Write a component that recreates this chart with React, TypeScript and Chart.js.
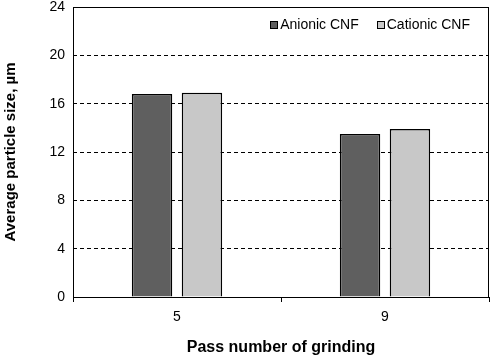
import React, { useEffect, useRef } from "react";
import { Chart, registerables } from "chart.js";

Chart.register(...registerables);

const categories = ["5", "9"];
const anionic = [16.8, 13.5];
const cationic = [16.9, 13.9];
const seriesNames = ["Anionic CNF", "Cationic CNF"];
const seriesColors = ["#5f5f5f", "#c8c8c8"];
const yTicks = [0, 4, 8, 12, 16, 20, 24];

const FONT = "Arial, 'Liberation Sans', sans-serif";

const boxPlugin = {
  id: "boxPlugin",
  afterDatasetsDraw(chart: any) {
    const { ctx, chartArea } = chart;
    ctx.save();
    ctx.strokeStyle = "#000";
    ctx.lineWidth = 1;
    ctx.setLineDash([]);
    ctx.strokeRect(
      Math.round(chartArea.left) + 0.5,
      Math.round(chartArea.top) + 0.5,
      Math.round(chartArea.right - chartArea.left) - 1,
      Math.round(chartArea.bottom - chartArea.top)
    );
    ctx.restore();
  },
};

const legendPlugin = {
  id: "customLegend",
  afterDraw(chart: any) {
    const { ctx, chartArea } = chart;
    ctx.save();
    ctx.font = "14px " + FONT;
    ctx.textBaseline = "middle";
    ctx.textAlign = "left";
    const y = chartArea.top + 18;
    const box = 8;
    const gapBoxText = 2;
    const itemGap = 18;
    const widths = seriesNames.map((n) => ctx.measureText(n).width);
    let total = 0;
    widths.forEach((w, i) => {
      total += box + gapBoxText + w;
      if (i < widths.length - 1) total += itemGap;
    });
    let x = chartArea.right - 19 - total;
    seriesNames.forEach((n, i) => {
      ctx.fillStyle = seriesColors[i];
      ctx.fillRect(Math.round(x), Math.round(y - box / 2), box, box);
      ctx.strokeStyle = "#000";
      ctx.lineWidth = 1;
      ctx.strokeRect(Math.round(x) + 0.5, Math.round(y - box / 2) + 0.5, box - 1, box - 1);
      ctx.fillStyle = "#000";
      ctx.fillText(n, x + box + gapBoxText, y);
      x += box + gapBoxText + widths[i] + itemGap;
    });
    ctx.restore();
  },
};

export default function App() {
  const ref = useRef<HTMLCanvasElement>(null);
  useEffect(() => {
    document.body.style.margin = "0";
    const canvas = ref.current!;
    const chart = new Chart(canvas, {
      type: "bar",
      data: {
        labels: categories,
        datasets: [
          {
            label: seriesNames[0],
            data: anionic,
            backgroundColor: seriesColors[0],
            borderColor: "#000",
            borderWidth: 1.5,
            categoryPercentage: 0.48,
            barPercentage: 0.81,
          },
          {
            label: seriesNames[1],
            data: cationic,
            backgroundColor: seriesColors[1],
            borderColor: "#000",
            borderWidth: 1.5,
            categoryPercentage: 0.48,
            barPercentage: 0.81,
          },
        ],
      },
      options: {
        responsive: false,
        animation: false,
        layout: { padding: { left: 0, right: 3, top: 7, bottom: 0 } },
        plugins: {
          legend: { display: false },
          tooltip: { enabled: false },
        },
        scales: {
          x: {
            grid: {
              display: true,
              drawOnChartArea: false,
              drawTicks: true,
              tickLength: 5,
              color: "#000",
              offset: true,
            },
            border: { display: false },
            ticks: {
              color: "#000",
              font: { family: FONT, size: 14 },
              padding: 7,
            },
            title: {
              display: true,
              text: "Pass number of grinding",
              color: "#000",
              font: { family: FONT, size: 16, weight: "bold" },
              padding: { top: 0, bottom: -1 },
            },
            afterFit(scale: any) {
              scale.height = 59;
              scale.paddingLeft = 0;
              scale.paddingRight = 0;
            },
          },
          y: {
            min: 0,
            max: 24,
            afterBuildTicks(scale: any) {
              scale.ticks = yTicks.map((v) => ({ value: v }));
            },
            grid: {
              color: "#000",
              lineWidth: 1,
              drawTicks: false,
            },
            border: { display: false, dash: [4, 3] },
            ticks: {
              color: "#000",
              font: { family: FONT, size: 14 },
              padding: 8,
            },
            title: {
              display: true,
              text: "Average particle size, µm",
              color: "#000",
              font: { family: FONT, size: 15, weight: "bold" },
              padding: { top: 2, bottom: 0 },
            },
            afterFit(scale: any) {
              scale.width = 73;
              scale.paddingTop = 0;
              scale.paddingBottom = 0;
            },
          },
        },
      },
      plugins: [boxPlugin, legendPlugin],
    });
    return () => chart.destroy();
  }, []);
  return (
    <div style={{ width: 492, height: 356 }}>
      <canvas ref={ref} width={492} height={356} style={{ display: "block" }} />
    </div>
  );
}
